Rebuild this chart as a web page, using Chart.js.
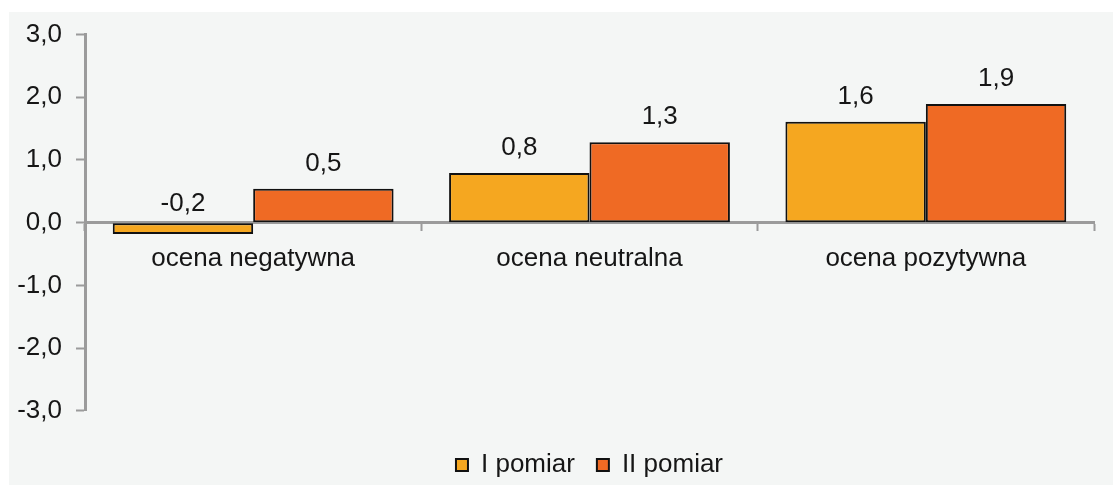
<!DOCTYPE html>
<html lang="pl">
<head>
<meta charset="utf-8">
<title>Ocena – I i II pomiar</title>
<script src="https://cdn.jsdelivr.net/npm/chart.js@4"></script>
<style>
  html, body { margin: 0; padding: 0; background: #ffffff; }
  #wrap {
    position: absolute;
    left: 9px;
    top: 12px;
    width: 1104px;
    height: 473px;
    background: #f4f6f5;
  }
</style>
</head>
<body>
<div id="wrap"><canvas id="ocenaChart"></canvas></div>
<script>
const categories = ['ocena negatywna', 'ocena neutralna', 'ocena pozytywna'];
const pomiar1 = [-0.18, 0.79, 1.61];
const pomiar2 = [0.54, 1.28, 1.89];
const seriesNames = ['I pomiar', 'II pomiar'];
const yTicks = [-3, -2, -1, 0, 1, 2, 3];

const axisGray = '#9b9b9b';
const textColor = '#161616';
const fontSize = 26;
const fmt = v => v.toFixed(1).replace('.', ',');

// wartości nad słupkami
const valueLabels = {
  id: 'valueLabels',
  afterDatasetsDraw(chart) {
    const ctx = chart.ctx;
    const zeroY = chart.scales.y.getPixelForValue(0);
    ctx.save();
    ctx.font = fontSize + 'px "Liberation Sans", Arial, sans-serif';
    ctx.fillStyle = textColor;
    ctx.textAlign = 'center';
    ctx.textBaseline = 'alphabetic';
    chart.data.datasets.forEach((ds, i) => {
      chart.getDatasetMeta(i).data.forEach((bar, j) => {
        const v = ds.data[j];
        const y = v >= 0 ? bar.y - 18 : zeroY - 12;
        ctx.fillText(fmt(v), bar.x, y);
      });
    });
    ctx.restore();
  }
};

Chart.defaults.font.family = '"Liberation Sans", Arial, sans-serif';
Chart.defaults.color = textColor;

new Chart(document.getElementById('ocenaChart'), {
  type: 'bar',
  data: {
    labels: categories,
    datasets: [
      {
        label: seriesNames[0],
        data: pomiar1,
        backgroundColor: '#f5a720',
        borderColor: '#111111',
        borderWidth: 2,
        borderSkipped: false
      },
      {
        label: seriesNames[1],
        data: pomiar2,
        backgroundColor: '#ef6a24',
        borderColor: '#111111',
        borderWidth: 2,
        borderSkipped: false
      }
    ]
  },
  options: {
    responsive: true,
    maintainAspectRatio: false,
    animation: false,
    datasets: {
      bar: { categoryPercentage: 0.835, barPercentage: 1 }
    },
    layout: { padding: { left: 0, right: 19, top: 22.5, bottom: -3 } },
    plugins: {
      tooltip: { enabled: false },
      legend: {
        position: 'bottom',
        fullSize: false,
        title: { display: true, text: '', font: { size: 1 }, padding: { top: 18, bottom: 0 } },
        labels: {
          boxWidth: 12,
          boxHeight: 12,
          padding: 22,
          font: { size: fontSize },
          color: textColor,
          generateLabels(chart) {
            return chart.data.datasets.map((ds, i) => ({
              text: ds.label,
              fillStyle: ds.backgroundColor,
              strokeStyle: '#111111',
              lineWidth: 2,
              datasetIndex: i
            }));
          }
        }
      }
    },
    scales: {
      x: {
        position: { y: 0 },
        z: 1,
        grid: {
          display: true,
          drawOnChartArea: false,
          drawTicks: true,
          tickLength: 7,
          tickWidth: 2,
          color: axisGray,
          offset: true
        },
        border: { display: true, color: axisGray, width: 3 },
        ticks: { font: { size: fontSize }, color: textColor, padding: 14 }
      },
      y: {
        min: -3,
        max: 3,
        afterFit(scale) {
          scale.width = 76;
          scale.paddingTop = 0;
          scale.paddingBottom = 0;
        },
        afterBuildTicks(scale) { scale.ticks = yTicks.map(v => ({ value: v })); },
        grid: {
          drawOnChartArea: false,
          drawTicks: true,
          tickLength: 9,
          tickWidth: 2,
          color: axisGray
        },
        border: { display: true, color: axisGray, width: 3 },
        ticks: {
          font: { size: fontSize },
          color: textColor,
          padding: 14,
          callback: v => fmt(v)
        }
      }
    }
  },
  plugins: [valueLabels]
});
</script>
</body>
</html>
